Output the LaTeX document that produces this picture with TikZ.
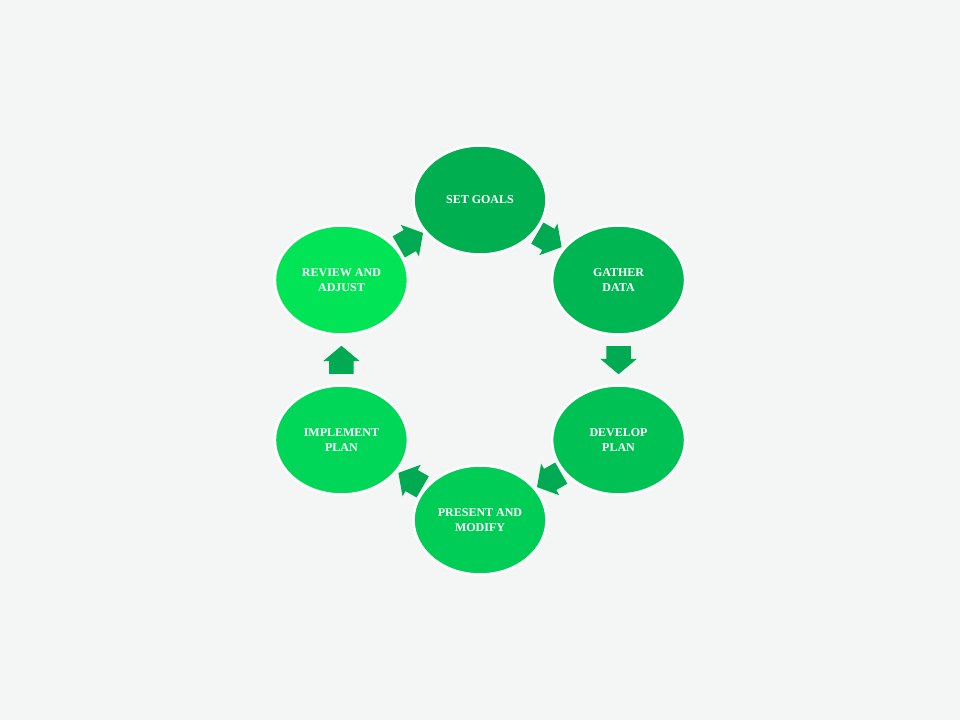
\documentclass[tikz,border=0pt]{standalone}
\usepackage{fontspec}
\setmainfont{Liberation Serif}
\usetikzlibrary{shapes.geometric, shapes.arrows, calc}

\definecolor{paperGray}{RGB}{244,245,245}
\definecolor{arrowGreen}{RGB}{0,170,82}
\definecolor{goalGreen}{RGB}{0,176,80}
\definecolor{dataGreen}{RGB}{0,182,82}
\definecolor{planGreen}{RGB}{0,194,84}
\definecolor{modGreen}{RGB}{0,205,86}
\definecolor{implGreen}{RGB}{0,215,88}
\definecolor{revGreen}{RGB}{0,228,86}

\pgfdeclarelayer{paper}
\pgfdeclarelayer{under}
\pgfsetlayers{paper,under,main}

\begin{document}
\begin{tikzpicture}[x=1pt, y=1pt,
  stage/.style={ellipse, draw=white, line width=2.5pt, minimum width=133pt,
    minimum height=109pt, inner sep=0pt, align=center, text=white,
    font=\fontsize{12}{15}\selectfont\bfseries},
  turn/.style={single arrow, fill=arrowGreen, draw=none, minimum height=28pt,
    single arrow head extend=6pt, single arrow tip angle=100,
    inner xsep=0pt, inner ysep=12pt, anchor=tail}]

% Canvas
\begin{pgfonlayer}{paper}
\fill[paperGray] (-480,-360) rectangle (480,360);
\end{pgfonlayer}
\useasboundingbox (-480,-360) rectangle (480,360);

% Cycle stages
\node[stage, fill=goalGreen] (goals) at (90:160) {SET GOALS};
\node[stage, fill=dataGreen] (data) at (30:160) {GATHER\\DATA};
\node[stage, fill=planGreen] (plan) at (-30:160) {DEVELOP\\PLAN};
\node[stage, fill=modGreen] (modify) at (-90:160) {PRESENT AND\\MODIFY};
\node[stage, fill=implGreen] (implement) at (-150:160) {IMPLEMENT\\PLAN};
\node[stage, fill=revGreen] (review) at (150:160) {REVIEW AND\\ADJUST};

% Block arrows between stages (tail 14pt back from the midpoint)
\begin{pgfonlayer}{under}
\node[turn, rotate=-30] (a1) at ($(goals)!0.5!(data)!14pt!(goals)$) {};
\node[turn, rotate=-90] (a2) at ($(data)!0.5!(plan)!14pt!(data)$) {};
\node[turn, rotate=-150] (a3) at ($(plan)!0.5!(modify)!14pt!(plan)$) {};
\node[turn, rotate=150] (a4) at ($(modify)!0.5!(implement)!14pt!(modify)$) {};
\node[turn, rotate=90] (a5) at ($(implement)!0.5!(review)!14pt!(implement)$) {};
\node[turn, rotate=30] (a6) at ($(review)!0.5!(goals)!14pt!(review)$) {};
\end{pgfonlayer}

\end{tikzpicture}
\end{document}
